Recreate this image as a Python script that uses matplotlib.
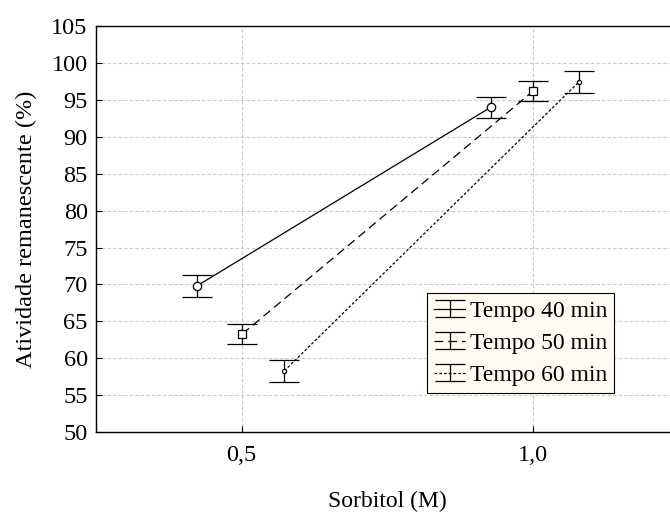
import numpy as np
import matplotlib.pyplot as plt
from matplotlib.legend_handler import HandlerTuple, HandlerErrorbar
from matplotlib.container import ErrorbarContainer

plt.rcParams['font.family'] = ['Liberation Serif', 'DejaVu Serif']

# Sorbitol (M) e atividade remanescente (%)
x40 = [0.423, 0.927]
y40 = [69.8, 94.0]
e40 = [1.45, 1.45]

x50 = [0.501, 1.000]
y50 = [63.3, 96.2]
e50 = [1.4, 1.4]

x60 = [0.573, 1.078]
y60 = [58.3, 97.4]
e60 = [1.45, 1.5]

labels = ['Tempo 40 min', 'Tempo 50 min', 'Tempo 60 min']

fig = plt.figure(figsize=(6.7, 5.12), dpi=100)
ax = fig.add_axes([0.1433, 0.156, 0.870, 0.793])

series = [
    (x40, y40, e40, '-', 'o', 6),
    (x50, y50, e50, (0, (7, 4)), 's', 6),
    (x60, y60, e60, (0, (2.2, 1.6)), 'o', 3),
]
handles = []
for (xs, ys, es, ls, mk, ms) in series:
    ln, = ax.plot(xs, ys, color='black', lw=0.9, linestyle=ls)
    eb = ax.errorbar(xs, ys, yerr=es, fmt='none', ecolor='black',
                     elinewidth=0.9, capsize=10.8, capthick=0.9)
    ax.plot(xs, ys, linestyle='none', marker=mk, ms=ms, mfc='white',
            mec='black', mew=0.9, zorder=5)
    handles.append((ln, eb))

ax.set_xlim(0.25, 1.25)
ax.set_ylim(50, 105)
ax.set_xticks([0.5, 1.0])
ax.set_xticklabels(['0,5', '1,0'])
ax.set_yticks(np.arange(50, 106, 5))
ax.tick_params(direction='in', labelsize=17.5, length=4, width=0.8, pad=9)
ax.tick_params(axis='y', pad=6)
ax.grid(True, linestyle=(0, (3, 2)), color='#c8c8c8', lw=0.8)
ax.set_axisbelow(True)
for s in ax.spines.values():
    s.set_linewidth(1.0)

ax.set_xlabel('Sorbitol (M)', fontsize=17, labelpad=18)
ax.set_ylabel('Atividade remanescente (%)', fontsize=17.5, labelpad=10)

hmap = {tuple: HandlerTuple(ndivide=1),
        ErrorbarContainer: HandlerErrorbar(xerr_size=0.5, yerr_size=0.36)}
leg = ax.legend(handles, labels, handler_map=hmap,
                loc='upper left', bbox_to_anchor=(0.568, 0.342), fontsize=17,
                fancybox=False, framealpha=1, facecolor='#fffbf0',
                edgecolor='black', handlelength=1.3, handletextpad=0.2,
                borderpad=0.3, labelspacing=0.45, borderaxespad=0)
leg.get_frame().set_linewidth(0.8)

fig.savefig('out.png', dpi=100)
